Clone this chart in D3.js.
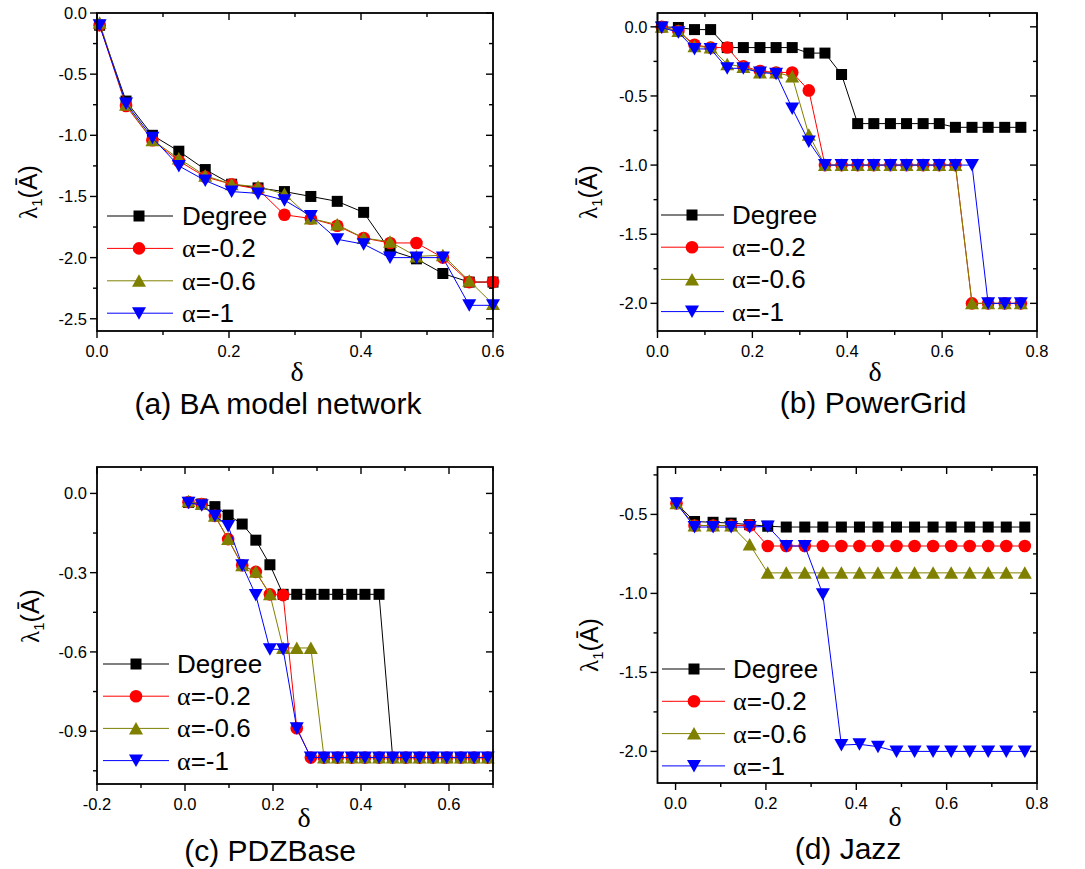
<!DOCTYPE html>
<html>
<head>
<meta charset="utf-8">
<style>
  body { margin: 0; background: #fff; }
  svg text { font-family: "Liberation Sans", Arial, sans-serif; fill: #000; }
  .serif { font-family: "Liberation Serif", "Times New Roman", serif; }
  .frame { fill: none; stroke: #000; stroke-width: 1.8px; }
  .tick { stroke: #000; stroke-width: 1.4px; }
  .series path.line { fill: none; stroke-width: 1px; }
</style>
</head>
<body>
<svg id="vis" width="1085" height="869"></svg>
<script src="https://cdnjs.cloudflare.com/ajax/libs/d3/7.8.5/d3.min.js"></script>
<script>
// ---- data -------------------------------------------------------------
var seriesNames = ["Degree", "α=-0.2", "α=-0.6", "α=-1"];

// (a) BA model network
var aX       = [0.004,0.044,0.084,0.124,0.164,0.204,0.244,0.284,0.324,0.364,0.404,0.444,0.484,0.524,0.564,0.6];
var aDegree  = [-0.10,-0.72,-1.00,-1.13,-1.28,-1.40,-1.43,-1.46,-1.50,-1.54,-1.63,-1.94,-2.01,-2.13,-2.20,-2.20];
var aAlpha02 = [-0.10,-0.76,-1.04,-1.21,-1.34,-1.40,-1.44,-1.65,-1.68,-1.74,-1.84,-1.88,-1.88,-2.00,-2.20,-2.20];
var aAlpha06 = [-0.08,-0.75,-1.04,-1.19,-1.33,-1.40,-1.42,-1.48,-1.68,-1.73,-1.84,-1.87,-1.99,-1.98,-2.19,-2.38];
var aAlpha1  = [-0.10,-0.74,-1.02,-1.25,-1.37,-1.46,-1.475,-1.53,-1.66,-1.85,-1.89,-2.00,-2.00,-2.00,-2.39,-2.39];

// (b) PowerGrid
var bX       = [0.009,0.044,0.078,0.112,0.147,0.181,0.216,0.250,0.284,0.319,0.353,0.388,0.422,0.456,0.491,0.525,0.560,0.594,0.628,0.663,0.697,0.732,0.766];
var bDegree  = [0,-0.005,-0.02,-0.02,-0.15,-0.15,-0.15,-0.15,-0.15,-0.19,-0.19,-0.345,-0.70,-0.70,-0.70,-0.70,-0.70,-0.70,-0.727,-0.727,-0.727,-0.727,-0.727];
var bAlpha02 = [0,-0.03,-0.13,-0.15,-0.15,-0.285,-0.32,-0.33,-0.33,-0.46,-1,-1,-1,-1,-1,-1,-1,-1,-1,-2,-2,-2,-2];
var bAlpha06 = [0,-0.03,-0.14,-0.15,-0.27,-0.29,-0.33,-0.33,-0.36,-0.78,-1,-1,-1,-1,-1,-1,-1,-1,-1,-2,-2,-2,-2];
var bAlpha1  = [-0.005,-0.04,-0.16,-0.16,-0.30,-0.30,-0.33,-0.34,-0.59,-0.83,-1,-1,-1,-1,-1,-1,-1,-1,-1,-1,-2,-2,-2];

// (c) PDZBase
var cX       = [0.008,0.038,0.068,0.098,0.130,0.161,0.193,0.223,0.254,0.286,0.316,0.347,0.379,0.409,0.441,0.472,0.502,0.533,0.564,0.595,0.627,0.657,0.688];
var cDegree  = [-0.034,-0.04,-0.05,-0.082,-0.116,-0.177,-0.27,-0.382,-0.382,-0.382,-0.382,-0.382,-0.382,-0.382,-0.382,-1,-1,-1,-1,-1,-1,-1,-1];
var cAlpha02 = [-0.033,-0.04,-0.085,-0.173,-0.272,-0.297,-0.382,-0.385,-0.889,-1,-1,-1,-1,-1,-1,-1,-1,-1,-1,-1,-1,-1,-1];
var cAlpha06 = [-0.03,-0.04,-0.085,-0.173,-0.272,-0.297,-0.382,-0.585,-0.585,-0.585,-1,-1,-1,-1,-1,-1,-1,-1,-1,-1,-1,-1,-1];
var cAlpha1  = [-0.035,-0.045,-0.085,-0.123,-0.272,-0.385,-0.59,-0.59,-0.889,-1,-1,-1,-1,-1,-1,-1,-1,-1,-1,-1,-1,-1,-1];

// (d) Jazz
var dX       = [0.002,0.042,0.083,0.123,0.164,0.204,0.245,0.286,0.326,0.367,0.407,0.448,0.489,0.529,0.570,0.610,0.651,0.692,0.732,0.773];
var dDegree  = [-0.43,-0.545,-0.55,-0.555,-0.565,-0.575,-0.58,-0.58,-0.58,-0.58,-0.58,-0.58,-0.58,-0.58,-0.58,-0.58,-0.58,-0.58,-0.58,-0.58];
var dAlpha02 = [-0.43,-0.57,-0.57,-0.57,-0.57,-0.70,-0.70,-0.70,-0.70,-0.70,-0.70,-0.70,-0.70,-0.70,-0.70,-0.70,-0.70,-0.70,-0.70,-0.70];
var dAlpha06 = [-0.43,-0.57,-0.57,-0.57,-0.69,-0.87,-0.87,-0.87,-0.87,-0.87,-0.87,-0.87,-0.87,-0.87,-0.87,-0.87,-0.87,-0.87,-0.87,-0.87];
var dAlpha1  = [-0.43,-0.58,-0.58,-0.58,-0.58,-0.576,-0.70,-0.70,-1.005,-1.96,-1.955,-1.97,-2.0,-2.0,-2.0,-2.0,-2.0,-2.0,-2.0,-2.0];

// tick values
var aXTicks = [0, 0.2, 0.4, 0.6],            aXMinor = [0.1, 0.3, 0.5];
var aYTicks = [0, -0.5, -1, -1.5, -2, -2.5], aYMinor = [-0.25, -0.75, -1.25, -1.75, -2.25];
var bXTicks = [0, 0.2, 0.4, 0.6, 0.8],       bXMinor = [0.1, 0.3, 0.5, 0.7];
var bYTicks = [0, -0.5, -1, -1.5, -2],       bYMinor = [-0.25, -0.75, -1.25, -1.75];
var cXTicks = [-0.2, 0, 0.2, 0.4, 0.6],      cXMinor = [-0.1, 0.1, 0.3, 0.5, 0.7];
var cYTicks = [0, -0.3, -0.6, -0.9],         cYMinor = [-0.15, -0.45, -0.75, -1.05];
var dXTicks = [0, 0.2, 0.4, 0.6, 0.8],       dXMinor = [0.1, 0.3, 0.5, 0.7];
var dYTicks = [-0.5, -1, -1.5, -2],          dYMinor = [-0.25, -0.75, -1.25, -1.75];

var titles = ["(a) BA model network", "(b) PowerGrid", "(c) PDZBase", "(d) Jazz"];

// ---- style / layout --------------------------------------------------
var colors = ["#000000", "#ff0000", "#808000", "#0000ff"];
var shapes = ["square", "circle", "up", "down"];

var panels = [
  { box: {l: 97, r: 493, t: 13, b: 331}, x: aX, ys: [aDegree, aAlpha02, aAlpha06, aAlpha1],
    xDom: [0, 0.6], yDom: [-2.6, 0], xT: aXTicks, xM: aXMinor, yT: aYTicks, yM: aYMinor,
    leg: {x1: 107, x2: 173, mx: 139, tx: 182, y0: 216, dy: 32.4},
    ylab: [37, 192], xlab: [297, 381], title: [278, 414] },
  { box: {l: 657.5, r: 1037, t: 13, b: 331}, x: bX, ys: [bDegree, bAlpha02, bAlpha06, bAlpha1],
    xDom: [0, 0.8], yDom: [-2.2, 0.1], xT: bXTicks, xM: bXMinor, yT: bYTicks, yM: bYMinor,
    leg: {x1: 661, x2: 724, mx: 692, tx: 732, y0: 215, dy: 32.2},
    ylab: [597, 192], xlab: [875, 381], title: [873, 413] },
  { box: {l: 97, r: 493, t: 467, b: 784}, x: cX, ys: [cDegree, cAlpha02, cAlpha06, cAlpha1],
    xDom: [-0.2, 0.7], yDom: [-1.1, 0.1], xT: cXTicks, xM: cXMinor, yT: cYTicks, yM: cYMinor,
    leg: {x1: 103, x2: 169, mx: 136, tx: 177, y0: 664, dy: 32.2},
    ylab: [39, 616], xlab: [304, 827], title: [270, 861] },
  { box: {l: 657.5, r: 1037, t: 467, b: 783}, x: dX, ys: [dDegree, dAlpha02, dAlpha06, dAlpha1],
    xDom: [-0.04, 0.8], yDom: [-2.2, -0.2], xT: dXTicks, xM: dXMinor, yT: dYTicks, yM: dYMinor,
    leg: {x1: 662, x2: 725, mx: 694, tx: 733, y0: 669, dy: 32.3},
    ylab: [598, 645], xlab: [895, 826], title: [848, 859] }
];

var vis = d3.select("#vis");
var fmt = function(d){ return (+d).toFixed(1); };

function markerPath(shape){
  if (shape === "square") return "M-5.5,-5.5H5.5V5.5H-5.5Z";
  if (shape === "circle") return d3.symbol(d3.symbolCircle, 125)();
  if (shape === "up") return "M0,-6.5L7,6L-7,6Z";
  return "M0,6.5L7,-6L-7,-6Z";
}

function drawPanel(p, idx){
  var g = vis.append("g").attr("class", "panel");
  var bx = p.box;
  var x = d3.scaleLinear().domain(p.xDom).range([bx.l, bx.r]);
  var y = d3.scaleLinear().domain(p.yDom).range([bx.b, bx.t]);

  // series: line then markers
  p.ys.forEach(function(vals, si){
    var pts = vals.map(function(v, i){ return [p.x[i], v]; });
    var sg = g.append("g").attr("class", "series");
    sg.append("path").attr("class", "line")
      .attr("d", d3.line().x(function(d){ return x(d[0]); }).y(function(d){ return y(d[1]); })(pts))
      .attr("stroke", colors[si]);
    sg.selectAll("path.mk").data(pts).enter().append("path")
      .attr("class", "mk")
      .attr("d", markerPath(shapes[si]))
      .attr("transform", function(d){ return "translate(" + x(d[0]) + "," + y(d[1]) + ")"; })
      .attr("fill", colors[si]);
  });

  // frame + ticks
  g.append("rect").attr("class", "frame")
    .attr("x", bx.l).attr("y", bx.t).attr("width", bx.r - bx.l).attr("height", bx.b - bx.t);

  function xTicks(vals, len){
    vals.forEach(function(v){
      var px = x(v);
      g.append("line").attr("class", "tick").attr("x1", px).attr("x2", px).attr("y1", bx.b).attr("y2", bx.b + len);
      g.append("line").attr("class", "tick").attr("x1", px).attr("x2", px).attr("y1", bx.t).attr("y2", bx.t + len);
    });
  }
  function yTicks(vals, len){
    vals.forEach(function(v){
      var py = y(v);
      g.append("line").attr("class", "tick").attr("x1", bx.l - len).attr("x2", bx.l).attr("y1", py).attr("y2", py);
      g.append("line").attr("class", "tick").attr("x1", bx.r - len).attr("x2", bx.r).attr("y1", py).attr("y2", py);
    });
  }
  xTicks(p.xT, 7); xTicks(p.xM, 4);
  yTicks(p.yT, 7); yTicks(p.yM, 4);

  g.selectAll("text.xt").data(p.xT).enter().append("text")
    .attr("x", function(d){ return x(d); }).attr("y", bx.b + 26)
    .attr("text-anchor", "middle").attr("font-size", "16.5px").text(fmt);
  g.selectAll("text.yt").data(p.yT).enter().append("text")
    .attr("x", bx.l - 10).attr("y", function(d){ return y(d) + 6; })
    .attr("text-anchor", "end").attr("font-size", "16.5px").text(fmt);

  // axis labels
  var yl = g.append("text").attr("transform", "translate(" + p.ylab[0] + "," + p.ylab[1] + ") rotate(-90)")
    .attr("text-anchor", "middle").attr("font-size", "25px");
  yl.append("tspan").attr("class", "serif").text("λ");
  yl.append("tspan").attr("font-size", "15px").attr("dy", 5).text("1");
  yl.append("tspan").attr("dy", -5).text("(Ā)");

  g.append("text").attr("class", "serif").attr("x", p.xlab[0]).attr("y", p.xlab[1])
    .attr("text-anchor", "middle").attr("font-size", "28px").text("δ");

  g.append("text").attr("x", p.title[0]).attr("y", p.title[1])
    .attr("text-anchor", "middle").attr("font-size", "30px").text(titles[idx]);

  // legend
  var L = p.leg;
  seriesNames.forEach(function(name, si){
    var ry = L.y0 + si * L.dy;
    g.append("line").attr("x1", L.x1).attr("x2", L.x2).attr("y1", ry).attr("y2", ry)
      .attr("stroke", colors[si]).attr("stroke-width", 1);
    g.append("path").attr("d", markerPath(shapes[si]))
      .attr("transform", "translate(" + L.mx + "," + ry + ")").attr("fill", colors[si]);
    var t = g.append("text").attr("x", L.tx).attr("y", ry + 9).attr("font-size", "26px");
    if (name.charAt(0) === "α"){
      t.append("tspan").attr("class", "serif").text("α");
      t.append("tspan").text(name.slice(1));
    } else {
      t.text(name);
    }
  });
}

panels.forEach(drawPanel);
</script>
</body>
</html>
